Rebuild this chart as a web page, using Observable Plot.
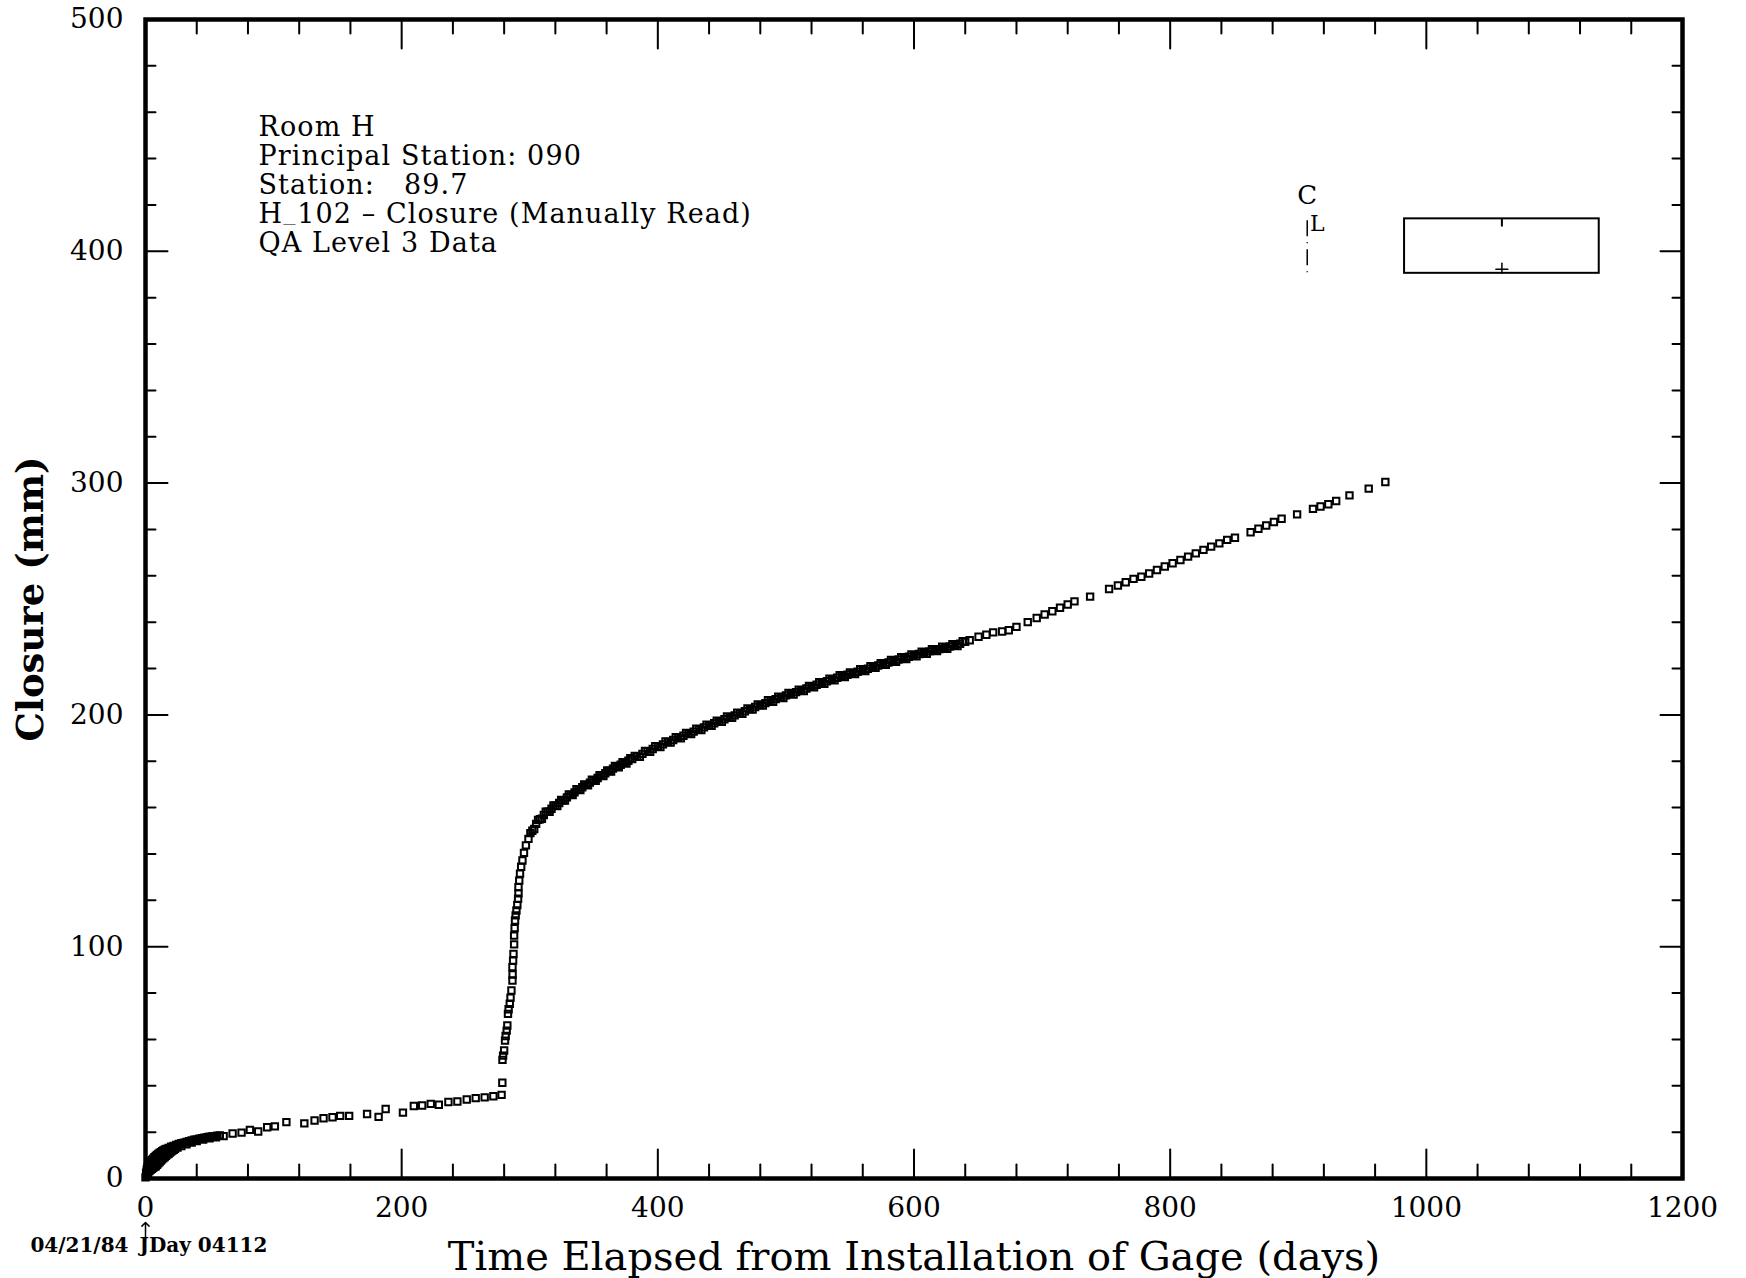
<!DOCTYPE html>
<html><head><meta charset="utf-8">
<script src="https://cdn.jsdelivr.net/npm/d3@7"></script>
<script src="https://cdn.jsdelivr.net/npm/@observablehq/plot@0.6"></script>
<style>body{margin:0;background:#fff}svg{display:block}</style>
</head><body><div id="chart"></div>
<script>
// ---- data ----
const days1 = [0,0.5,1,1.5,2,3,4,5,6,7,8,9,10,11,12,13,14,15,16,18,20,22,24,26,28,30,32,34,36,38,40,42,44,46,48,50,52,54,56,58];
const closure1 = [0.5,2.5,3.8,4.8,5.5,6.5,7.3,8.0,8.6,9.2,9.7,10.2,10.6,11.0,11.4,11.8,12.1,12.4,12.7,13.2,13.7,14.1,14.5,14.9,15.2,15.5,15.8,16.1,16.4,16.7,16.9,17.2,17.4,17.6,17.8,18.0,18.1,18.3,18.5,18.6];
const days1b = [1,2,3,4,5,6,7,8,9,10,11,12,13,14,15,16,17,18,19,20,21,22,23,25,28,32,36,40,45,50,55];
const closure1b = [1.5,2.5,3.2,3.8,4.2,4.6,5.0,5.3,5.9,6.5,7.1,7.7,8.3,8.8,9.3,9.8,10.3,10.7,11.2,11.6,12.0,12.4,12.8,13.3,14.0,14.8,15.5,16.1,16.8,17.3,17.8];

const days2 = [61,68,75,81.5,88,95,101,110,124,132,139,146,152,159,173,182,187.5,201,209.5,216,222.7,229,236.5,243.5,250.8,257.8,264.8,271.6,278];
const closure2 = [18.3,19.4,19.8,21.0,20.3,22.1,22.5,24.3,23.8,25.0,26.0,26.4,27.0,27.0,27.8,26.6,30.0,28.4,31.3,31.5,32.2,31.8,33.0,33.2,34.1,34.7,35.0,35.5,36.1];

const days3 = [278.6,278.7,279.2,280,280.7,281.2,282,282.5,283,283.5,284.4,285,285.7,286.5,286.6,286.5,287,287.3,287.8,287.8,288.2,288.5,289,289.6,290.3,290.9,291.2,291.2,291.8,292.4,293.3,294.3,295.5,297];
const closure3 = [41.3,51.2,53,55.2,59.5,61.5,63.8,66,71,73,75.4,78,81.1,85.4,88,91.2,94,96.9,101,104.8,108,111.3,113.5,115.6,118,120.7,123,125.7,128.5,131.5,134.5,137.2,140.5,143.7];

const days4 = [299,302,305,308,311,314,317,320,323,326,329,332,335,338,341,344,347,350,353,356,359,362,365,368,371,374,377,
  380,384,388,392,396,400,404,408,412,416,420,424,428,432,436,440,444,448,452,456,460,464,468,472,476,480,484,488,492,496,
  500,504,508,512,516,520,524,528,532,536,540,544,548,552,556,560,564,568,572,576,580,584,588,592,596,600,604,608,612,616,620,624,628,632,636,640];
const closure4 = [146.5,150.0,153.0,155.0,156.8,158.2,159.5,160.8,162.0,163.2,164.4,165.5,166.6,167.7,168.8,169.8,170.8,171.8,172.8,173.8,174.8,175.8,176.8,177.7,178.5,179.3,180.2,
  181.0,182.1,183.2,184.3,185.3,186.3,187.3,188.3,189.2,190.1,191.0,191.9,192.8,193.7,194.6,195.5,196.4,197.2,198.1,199.0,199.8,200.7,201.6,202.5,203.4,204.2,205.1,206.0,206.8,207.6,
  208.4,209.1,209.8,210.6,211.4,212.2,213.0,213.7,214.5,215.2,216.0,216.7,217.3,217.9,218.6,219.3,219.9,220.6,221.3,221.9,222.6,223.3,223.9,224.5,225.1,225.7,226.3,226.8,227.4,227.9,228.4,228.9,229.5,230.1,230.7,231.5];
const days4b = [300.5,303.5,306.5,309.5,312.5,315.5,318.5,321.5,324.5,327.5,330.5,333.5,336.5,339.5,342.5,345.5,348.5,351.5,354.5,357.5,360.5,363.5,366.5,369.5,372.5,375.5,378.5,
  382,386,390,394,398,402,406,410,414,418,422,426,430,434,438,442,446,450,454,458,462,466,470,474,478,482,486,490,494,498,
  502,506,510,514,518,522,526,530,534,538,542,546,550,554,558,562,566,570,574,578,582,586,590,594,598,602,606,610,614,618,622,626,630,634,638];
const closure4b = [149.0,150.8,154.7,155.2,158.2,158.2,160.9,160.7,163.3,163.1,165.7,165.4,167.9,167.6,170.0,169.6,172.0,171.6,174.0,173.6,176.0,175.6,178.0,177.4,179.6,179.0,181.3,
  182.3,181.9,184.5,184.1,186.5,186.1,188.5,188.1,190.4,189.9,192.2,191.7,194.0,193.5,195.8,195.3,197.5,197.0,199.3,198.7,201.0,200.5,202.8,202.3,204.5,204.0,206.3,205.7,207.9,207.3,
  209.5,208.8,210.9,210.3,212.5,211.9,214.1,213.4,215.6,214.9,217.1,216.3,218.3,217.6,219.7,218.9,221.0,220.3,222.3,221.6,223.7,222.9,224.9,224.1,226.1,225.3,227.3,226.4,228.4,227.5,229.4,228.5,230.5,229.7,231.8];

const days5 = [643.5,650.4,656.5,661.8,668.8,674,680,688.8,695.8,702,708,714,720,725.3,737.5,752.3,759.2,765.3,771.4,777.5,783.6,789.7,795.8,801.9,808,814,820,826,832,838.4,844.5,850.6,862.8,868.9,875,881,887,899.1,911.5,917.4,923.5,929.6,940,955,968];
const closure5 = [232.2,233.7,234.6,235.6,236,236.5,238,240,241.8,243.3,244.7,246.2,247.6,249,251,254.3,255.8,257.2,258.7,259.6,261,262.5,264,265.4,266.8,268.3,269.7,271.2,272.6,274,275.5,276.4,278.8,280.3,281.7,283.2,284.6,286.5,288.9,289.9,290.9,292.3,294.7,297.6,300.5];

const xTickLabels = [0,200,400,600,800,1000,1200];
const yTickLabels = [0,100,200,300,400,500];
const xMinor = [40,80,120,160,240,280,320,360,440,480,520,560,640,680,720,760,840,880,920,960,1040,1080,1120,1160];
const yMinor = [20,40,60,80,120,140,160,180,220,240,260,280,320,340,360,380,420,440,460,480];

const infoLines = ["Room H","Principal Station: 090","Station:\u00a0\u00a0 89.7","H_102 \u2013 Closure (Manually Read)","QA Level 3 Data"];
const xTitle = "Time Elapsed from Installation of Gage (days)";
const yTitle = "Closure (mm)";
const dateLeft = "04/21/84";
const dateRight = "JDay 04112";

// key at top right (data units)
const keyBox = [{x1: 983, x2: 1135, y1: 390.5, y2: 414}];
const keyLine = [{x: 907, y1: 390.8, y2: 414}];
const keyMid = [1059];
const keyLineX = 907;

// ---- build table ----
const rows = [];
[[days1,closure1],[days1b,closure1b],[days2,closure2],[days3,closure3],[days4,closure4],[days4b,closure4b],[days5,closure5]].forEach(([d,c]) => {
  d.forEach((v,i) => rows.push({day: v, closure: c[i]}));
});

const tick = {draw(ctx, l) { ctx.moveTo(0, 0); ctx.lineTo(0, -l); }};
const font = "'DejaVu Serif', serif";

const infoMarks = infoLines.map((line, i) =>
  Plot.text([line], {text: d => d, frameAnchor: "top-left", dx: 113, dy: 97 + 29 * i, textAnchor: "start", lineAnchor: "top", fontSize: 27, fill: "#000", className: "info"})
);

const chart = Plot.plot({
  width: 1746, height: 1278,
  marginLeft: 145, marginRight: 64, marginTop: 19, marginBottom: 100,
  style: {fontFamily: font, background: "#fff", color: "#000"},
  x: {domain: [0, 1200]},
  y: {domain: [0, 500]},
  marks: [
    Plot.axisX({ticks: xTickLabels, tickSize: 0, tickPadding: 19, fontSize: 28, label: null, tickFormat: d => String(d)}),
    Plot.axisY({ticks: yTickLabels, tickSize: 0, tickPadding: 22, fontSize: 28, label: null, tickFormat: d => String(d)}),
    Plot.vector(xTickLabels, {x: d => d, y: 0, rotate: 0, length: 29, anchor: "start", shape: tick, strokeWidth: 2}),
    Plot.vector(xMinor, {x: d => d, y: 0, rotate: 0, length: 14, anchor: "start", shape: tick, strokeWidth: 2}),
    Plot.vector(xTickLabels, {x: d => d, y: 500, rotate: 180, length: 29, anchor: "start", shape: tick, strokeWidth: 2}),
    Plot.vector(xMinor, {x: d => d, y: 500, rotate: 180, length: 14, anchor: "start", shape: tick, strokeWidth: 2}),
    Plot.vector(yTickLabels, {x: 0, y: d => d, rotate: 90, length: 22, anchor: "start", shape: tick, strokeWidth: 2}),
    Plot.vector(yMinor, {x: 0, y: d => d, rotate: 90, length: 10, anchor: "start", shape: tick, strokeWidth: 2}),
    Plot.vector(yTickLabels, {x: 1200, y: d => d, rotate: -90, length: 22, anchor: "start", shape: tick, strokeWidth: 2}),
    Plot.vector(yMinor, {x: 1200, y: d => d, rotate: -90, length: 10, anchor: "start", shape: tick, strokeWidth: 2}),
    Plot.frame({stroke: "#000", strokeWidth: 4.5}),
    // data
    Plot.dot(rows, {x: "day", y: "closure", symbol: "square", r: 3.6, stroke: "#000", strokeWidth: 2, fill: "none"}),
    // info text
    ...infoMarks,
    // key
    Plot.rect(keyBox, {x1: "x1", x2: "x2", y1: "y1", y2: "y2", fill: "none", stroke: "#000", strokeWidth: 2}),
    Plot.vector(keyMid, {x: d => d, y: 414, rotate: 180, length: 7, anchor: "start", shape: tick, strokeWidth: 2}),
    Plot.vector(keyMid, {x: d => d, y: 390.5, rotate: 0, length: 10, anchor: "start", shape: tick, strokeWidth: 1.5}),
    Plot.vector(keyMid, {x: d => d, y: 390.5, dy: -4, rotate: 90, length: 12, anchor: "middle", shape: tick, strokeWidth: 1.5}),
    Plot.ruleX(keyLine, {x: "x", y1: "y1", y2: "y2", stroke: "#000", strokeWidth: 1.5, strokeDasharray: "1,6,16,6"}),
    Plot.text(["C"], {text: d => d, x: keyLineX, y: 414, dy: -23, fontSize: 26, fill: "#000"}),
    Plot.text(["L"], {text: d => d, x: keyLineX, y: 414, dy: 5, dx: 10, fontSize: 22, fill: "#000"}),
    // axis titles
    Plot.text([xTitle], {text: d => d, frameAnchor: "bottom", lineAnchor: "middle", dy: 79, fontSize: 40, fill: "#000"}),
    Plot.text([yTitle], {text: d => d, frameAnchor: "left", textAnchor: "middle", dx: -114, rotate: -90, fontSize: 37, fontWeight: "bold", fill: "#000"}),
    // installation date note
    Plot.text([dateLeft], {text: d => d, frameAnchor: "bottom-left", lineAnchor: "middle", dx: -17, dy: 67, textAnchor: "end", fontSize: 20, fontWeight: "bold", fill: "#000"}),
    Plot.text([dateRight], {text: d => d, frameAnchor: "bottom-left", lineAnchor: "middle", dx: -6, dy: 67, textAnchor: "start", fontSize: 20, fontWeight: "bold", fill: "#000"}),
    Plot.vector([0], {x: d => d, y: 0, dy: 62, rotate: 0, length: 18, anchor: "start", shape: "arrow", strokeWidth: 1.5})
  ]
});
// slightly wider tracking for the info block (reference face is wider than DejaVu Serif)
d3.select(chart).selectAll(".info text").attr("letter-spacing", "1.1");
// the underscore in "H_102" sits close to the baseline in the reference: draw it in a smaller size, stretched to full width
d3.select(chart).selectAll("text").each(function() {
  const t = this.textContent;
  if (t.startsWith("H_102")) {
    const s = d3.select(this);
    s.text(null);
    s.append("tspan").text("H");
    s.append("tspan").attr("font-size", "0.6em").attr("baseline-shift", "0.12em")
      .attr("textLength", 14).attr("lengthAdjust", "spacingAndGlyphs").text("_");
    s.append("tspan").text(t.slice(2));
  }
});
document.getElementById("chart").appendChild(chart);
</script>
</body></html>
